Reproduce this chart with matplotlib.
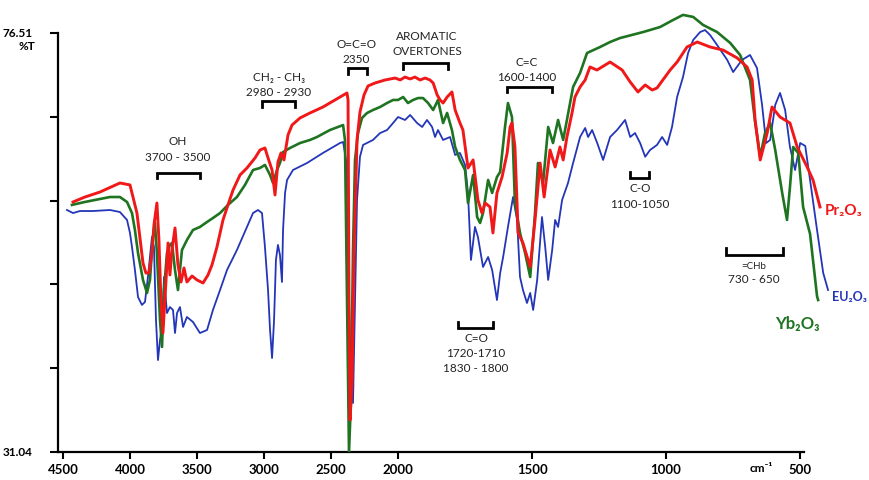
import numpy as np
import matplotlib
matplotlib.use("Agg")
import matplotlib.pyplot as plt

plt.rcParams['font.family'] = ['Lato', 'DejaVu Sans']

# ---------------- data (wavenumber cm-1, %T) ----------------
red_wn = [4425, 4336, 4224, 4075, 4000, 3948, 3903, 3881, 3858, 3836,
          3821, 3799, 3784, 3769, 3754, 3731, 3716, 3702, 3687, 3664,
          3642, 3619, 3597, 3575, 3537, 3500, 3455, 3418, 3388, 3351,
          3306, 3269, 3231, 3179, 3127, 3067, 3030, 2993, 2970, 2940,
          2918, 2896, 2873, 2851, 2821, 2791, 2731, 2657, 2560, 2470,
          2381, 2373, 2366, 2358, 2343, 2328, 2306, 2284, 2254, 2224,
          2172, 2097, 2022, 1992, 1974, 1955, 1937, 1918, 1899, 1881,
          1869, 1854, 1843, 1832, 1817, 1799, 1787, 1769, 1758, 1739,
          1720, 1702, 1687, 1675, 1657, 1646, 1631, 1612, 1593, 1582,
          1575, 1564, 1552, 1534, 1507, 1489, 1470, 1455, 1433, 1414,
          1396, 1384, 1370, 1351, 1340, 1321, 1302, 1284, 1258, 1209,
          1164, 1134, 1105, 1078, 1052, 1034, 985, 959, 922, 884,
          836, 788, 735, 698, 679, 668, 649, 623, 605, 575,
          538, 511, 474, 452, 426]
red_t = [58.17, 58.71, 59.25, 60.23, 60.02, 56.97, 51.55, 50.46, 50.46, 52.63,
         55.68, 58.06, 54.05, 47.53, 43.95, 49.71, 53.72, 50.25, 52.96, 55.35,
         51.34, 49.49, 51.01, 49.49, 50.14, 49.71, 49.38, 50.25, 51.34, 53.29,
         56.22, 57.85, 59.47, 61.10, 61.86, 62.95, 63.81, 64.03, 62.95, 61.64,
         58.93, 62.51, 63.49, 62.73, 65.44, 66.52, 67.29, 67.83, 68.48, 69.24,
         70.00, 69.24, 47.53, 34.51, 38.85, 52.96, 64.90, 67.94, 69.78, 70.76,
         71.08, 71.41, 71.62, 71.41, 71.73, 71.52, 71.73, 71.41, 71.62, 71.41,
         71.08, 69.78, 69.24, 68.91, 69.56, 70.11, 68.15, 66.74, 65.98, 61.86,
         62.73, 58.39, 56.97, 58.06, 57.63, 54.81, 59.15, 60.88, 63.49, 66.31,
         66.74, 64.14, 54.81, 53.72, 51.12, 56.22, 62.40, 58.71, 63.81, 61.97,
         64.14, 62.73, 65.22, 67.83, 69.56, 70.65, 71.41, 72.82, 72.49, 73.36,
         72.49, 71.19, 70.11, 70.87, 70.32, 70.54, 72.49, 73.36, 74.99, 75.53,
         74.99, 74.66, 73.80, 72.82, 71.41, 67.07, 62.73, 65.65, 68.48, 67.39,
         66.74, 64.14, 61.97, 60.56, 57.63]

grn_wn = [4433, 4337, 4224, 4149, 4075, 4022, 3985, 3963, 3940, 3903,
          3873, 3851, 3829, 3814, 3799, 3776, 3761, 3746, 3724, 3702,
          3687, 3664, 3642, 3612, 3575, 3530, 3478, 3425, 3381, 3328,
          3269, 3202, 3142, 3082, 3030, 2993, 2955, 2933, 2903, 2881,
          2858, 2806, 2731, 2657, 2605, 2508, 2410, 2396, 2381, 2366,
          2351, 2336, 2321, 2299, 2269, 2231, 2187, 2134, 2082, 2037,
          2000, 1981, 1963, 1944, 1925, 1907, 1888, 1869, 1851, 1832,
          1817, 1799, 1787, 1769, 1750, 1739, 1720, 1705, 1694, 1683,
          1664, 1649, 1631, 1619, 1601, 1590, 1575, 1564, 1545, 1526,
          1507, 1489, 1478, 1459, 1440, 1422, 1403, 1384, 1370, 1347,
          1321, 1295, 1246, 1209, 1172, 1086, 1023, 974, 937, 899,
          862, 810, 761, 724, 687, 668, 649, 631, 612, 593,
          567, 549, 538, 526, 507, 489, 463, 437, 433]
grn_t = [57.85, 58.17, 58.50, 58.71, 58.71, 58.17, 56.97, 55.13, 52.63, 49.71,
         48.30, 49.71, 54.37, 55.89, 52.63, 45.37, 42.44, 48.62, 52.63, 53.51,
         53.72, 50.79, 48.62, 52.96, 54.05, 55.13, 55.46, 56.00, 56.43, 56.97,
         57.85, 58.71, 60.02, 61.64, 61.86, 62.19, 61.10, 60.23, 61.64, 62.40,
         63.59, 64.03, 64.57, 64.90, 65.22, 65.98, 66.52, 64.90, 47.53, 31.04,
         36.68, 52.96, 62.73, 65.65, 67.29, 67.83, 68.15, 68.48, 68.91, 69.24,
         69.24, 69.56, 68.91, 69.24, 69.45, 69.45, 68.91, 68.15, 69.24, 66.74,
         67.83, 65.98, 64.14, 62.73, 61.64, 58.06, 61.10, 56.54, 55.89, 56.97,
         60.56, 59.15, 60.88, 61.43, 66.31, 68.91, 67.39, 58.06, 54.81, 52.63,
         50.03, 56.97, 62.40, 60.23, 66.31, 64.57, 67.07, 64.90, 67.07, 70.65,
         72.17, 74.34, 74.99, 75.53, 75.96, 76.61, 77.15, 77.92, 78.47, 78.25,
         77.38, 76.61, 75.43, 74.12, 71.41, 66.85, 63.08, 65.65, 66.74, 63.81,
         59.15, 56.22, 59.80, 64.14, 63.49, 57.63, 54.70, 47.95, 47.53]

blu_wn = [4470, 4425, 4373, 4276, 4149, 4075, 4022, 4000, 3985, 3963,
          3940, 3911, 3888, 3866, 3836, 3821, 3806, 3791, 3776, 3761,
          3746, 3724, 3702, 3679, 3664, 3649, 3627, 3604, 3575, 3530,
          3478, 3425, 3381, 3328, 3276, 3202, 3127, 3082, 3045, 3015,
          2993, 2970, 2955, 2940, 2925, 2911, 2896, 2881, 2866, 2858,
          2843, 2828, 2784, 2679, 2560, 2433, 2410, 2388, 2366, 2351,
          2336, 2321, 2306, 2284, 2261, 2187, 2134, 2082, 2037, 2000,
          1974, 1955, 1929, 1910, 1892, 1873, 1862, 1851, 1832, 1806,
          1787, 1769, 1750, 1739, 1728, 1713, 1702, 1683, 1664, 1649,
          1631, 1619, 1608, 1590, 1571, 1556, 1545, 1534, 1519, 1507,
          1496, 1481, 1463, 1451, 1440, 1425, 1414, 1403, 1388, 1366,
          1347, 1321, 1302, 1291, 1276, 1257, 1235, 1209, 1183, 1153,
          1134, 1116, 1097, 1078, 1060, 1034, 1015, 996, 978, 959,
          937, 918, 899, 873, 855, 836, 810, 772, 750, 717,
          687, 661, 642, 627, 612, 593, 575, 556, 538, 519,
          500, 481, 463, 437, 414, 396]
blu_t = [57.30, 56.97, 57.19, 57.19, 57.30, 57.08, 56.22, 54.81, 53.29, 50.79,
         47.86, 47.00, 47.32, 50.03, 54.37, 53.29, 45.37, 41.02, 43.20, 44.61,
         50.03, 46.12, 46.77, 46.45, 43.95, 46.12, 46.77, 44.61, 45.69, 45.15,
         43.95, 44.28, 46.45, 48.62, 50.79, 52.96, 55.46, 56.97, 57.30, 56.97,
         53.29, 48.62, 44.28, 41.24, 45.37, 51.88, 53.51, 52.42, 49.49, 55.13,
         59.15, 60.56, 61.64, 62.40, 63.49, 64.57, 64.68, 62.73, 47.53, 38.85,
         36.36, 47.53, 58.39, 63.08, 64.36, 64.90, 65.65, 65.98, 66.74, 67.39,
         67.07, 67.61, 66.74, 66.31, 67.07, 66.31, 65.22, 65.98, 64.90, 65.22,
         63.27, 63.49, 62.19, 59.15, 51.88, 55.46, 54.37, 51.12, 52.20, 50.79,
         47.53, 50.47, 52.20, 55.46, 58.71, 56.22, 50.03, 48.62, 47.21, 48.30,
         46.45, 49.71, 56.54, 53.29, 49.71, 52.96, 56.22, 55.46, 58.39, 60.23,
         62.40, 65.22, 66.20, 65.22, 65.98, 64.57, 62.73, 65.22, 65.98, 67.07,
         65.22, 65.65, 64.57, 63.08, 63.81, 64.36, 65.22, 64.36, 66.31, 69.56,
         71.73, 74.34, 75.75, 76.61, 76.83, 76.29, 75.21, 73.58, 72.27, 73.58,
         74.12, 72.71, 68.70, 64.57, 64.90, 68.70, 70.00, 68.15, 64.14, 61.64,
         64.57, 64.25, 60.56, 55.13, 50.47, 48.62]

x_ticks = [4500, 4000, 3500, 3000, 2500, 2000, 1500, 1000, 500]
y_min, y_max = 31.04, 76.51
y_ticks = list(np.linspace(y_min, y_max, 6))
y_labels = ["31.04", "", "", "", "", "76.51"]

series_labels = ["Pr\u2082O\u2083", "EU\u2082O\u2083", "Yb\u2082O\u2083"]
c_red, c_grn, c_blu = "#f01818", "#1e7420", "#2436b8"

# band annotations: (wn_left, wn_right, bracket_T, tick_T, text lines, text wn, text T list)
bands = [
    (3799, 3478, 61.32, 60.77, ["OH", "3700 - 3500"], 3642, [64.68, 62.95]),
    (3015, 2769, 69.13, 68.48, ["CH\u2082 - CH\u2083", "2980 - 2930"], 2888, [71.73, 70.00]),
    (2373, 2231, 72.71, 72.06, ["O=C=O", "2350"], 2313, [75.21, 73.58]),
    (1981, 1814, 73.25, 72.60, ["AROMATIC", "OVERTONES"], 1892, [76.08, 74.45]),
    (1593, 1425, 70.65, 70.11, ["C=C", "1600-1400"], 1519, [73.36, 71.73]),
    (1776, 1646, 44.50, 45.15, ["C=O", "1720-1710", "1830 - 1800"], 1709, [43.41, 41.68, 40.05]),
    (1134, 1064, 60.77, 61.42, ["C-O", "1100-1050"], 1097, [59.58, 57.95]),
    (776, 564, 52.39, 53.15, ["=CHb", "730 - 650"], 672, [51.22, 49.81]),
]


def fwd(w):
    w = np.asarray(w, dtype=float)
    return np.where(w > 2000, 2000 + (w - 2000) / 2.0, w)


def inv(u):
    u = np.asarray(u, dtype=float)
    return np.where(u > 2000, 2000 + (u - 2000) * 2.0, u)


fig = plt.figure(figsize=(8.69, 4.80), dpi=100)
ax = fig.add_axes([58 / 869, 28 / 480, 777 / 869, 444 / 480])
ax.set_xscale('function', functions=(fwd, inv))
ax.set_xlim(4537, 370)
ax.set_ylim(31.04, 79.22)

ax.plot(blu_wn, blu_t, color=c_blu, lw=1.3, zorder=3)
ax.plot(grn_wn, grn_t, color=c_grn, lw=1.9, zorder=4)
ax.plot(red_wn, red_t, color=c_red, lw=2.1, zorder=5)

for spine in ['top', 'right']:
    ax.spines[spine].set_visible(False)
ax.spines['left'].set_bounds(y_min, y_max)
ax.spines['bottom'].set_bounds(4537, 485)
ax.spines['left'].set_linewidth(1.6)
ax.spines['bottom'].set_linewidth(1.6)

ax.set_xticks(x_ticks)
ax.set_xticklabels([str(v) for v in x_ticks])
ax.set_yticks(y_ticks)
ax.set_yticklabels(y_labels)
ax.xaxis.set_minor_locator(matplotlib.ticker.NullLocator())
ax.tick_params(axis='x', direction='out', length=5, width=1.5, pad=4,
               labelsize=9.5)
ax.tick_params(axis='y', direction='out', length=6, width=1.5, pad=12,
               labelsize=8.5)
for lab in ax.get_xticklabels() + ax.get_yticklabels():
    lab.set_fontweight('bold')

fig.text(27 / 869, 1 - 46 / 480, "%T", ha='center', va='center',
         fontsize=8.5, fontweight='bold')
fig.text(761 / 869, 1 - 469 / 480, "cm\u207b\u00b9", ha='center', va='center',
         fontsize=8.5, fontweight='bold')

for wl, wr, yb, yt, lines, tx, tys in bands:
    ax.plot([wl, wl, wr, wr], [yt, yb, yb, yt], color='black', lw=2.0,
            solid_joinstyle='miter', zorder=6)
    for txt, ty in zip(lines, tys):
        fs = 7 if txt == "=CHb" else 8.5
        ax.text(tx, ty, txt, ha='center', va='center', fontsize=fs,
                color='#222222', zorder=7)

ax.text(407, 57.19, series_labels[0], color=c_red, fontsize=11,
        fontweight='bold', ha='left', va='center')
ax.text(380, 47.86, series_labels[1], color=c_blu, fontsize=9,
        fontweight='bold', ha='left', va='center')
ax.text(511, 44.96, series_labels[2], color=c_grn, fontsize=12,
        fontweight='bold', ha='center', va='center')

fig.savefig("out.png", dpi=100, facecolor='white')
